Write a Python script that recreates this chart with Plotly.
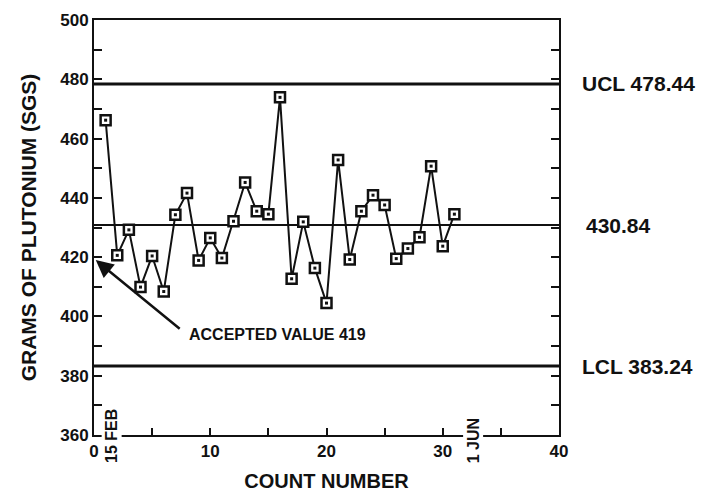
import plotly.graph_objects as go

# ---- data ----
count_number = list(range(1, 32))
grams_pu = [466.2, 420.6, 429.2, 409.9, 420.4, 408.4, 434.3, 441.6, 418.9, 426.5,
            419.7, 432.1, 445.2, 435.5, 434.5, 473.9, 412.7, 431.9, 416.3, 404.5,
            452.8, 419.2, 435.5, 440.9, 437.6, 419.5, 422.9, 426.7, 450.7, 423.7,
            434.5]
ucl = 478.44
center = 430.84
lcl = 383.24
accepted_value = 419
x_range = [0, 40]
y_range = [360, 500]
x_tick_vals = [0, 5, 10, 15, 20, 25, 30, 35, 40]
x_tick_text = ["0", "", "10", "", "20", "", "30", "", "40"]
y_tick_vals = [360, 370, 380, 390, 400, 410, 420, 430, 440, 450, 460, 470, 480, 490, 500]
y_tick_text = ["360", "", "380", "", "400", "", "420", "", "440", "", "460", "", "480", "", "500"]

FONT = "Liberation Sans, Arial, sans-serif"
BLACK = "#111111"

fig = go.Figure()

# control lines
for val, w in [(ucl, 3), (center, 2), (lcl, 3)]:
    fig.add_trace(go.Scatter(x=x_range, y=[val, val], mode="lines",
                             line=dict(color=BLACK, width=w),
                             hoverinfo="skip", showlegend=False))

# data line
fig.add_trace(go.Scatter(x=count_number, y=grams_pu, mode="lines",
                         line=dict(color=BLACK, width=2),
                         showlegend=False, hoverinfo="skip"))
# open square markers
fig.add_trace(go.Scatter(x=count_number, y=grams_pu, mode="markers",
                         marker=dict(symbol="square", size=10, color="white",
                                     line=dict(color=BLACK, width=2.5)),
                         showlegend=False))
# centre dots
fig.add_trace(go.Scatter(x=count_number, y=grams_pu, mode="markers",
                         marker=dict(symbol="square", size=3, color=BLACK,
                                     line=dict(width=0)),
                         showlegend=False, hoverinfo="skip"))

annotations = []
# right-hand labels for control lines
for val, txt, xp in [(ucl, "UCL 478.44", 1.045), (center, "430.84", 1.053), (lcl, "LCL 383.24", 1.045)]:
    annotations.append(dict(x=xp, xref="paper", y=val, yref="y", text=txt,
                            showarrow=False, xanchor="left", yanchor="middle",
                            font=dict(family=FONT, size=21, color=BLACK, weight="bold")))

# accepted value arrow
annotations.append(dict(x=0.15, y=accepted_value, xref="x", yref="y",
                        ax=7.5, ay=395.4, axref="x", ayref="y", text="",
                        showarrow=True, arrowhead=2, arrowsize=1.4, arrowwidth=2.5,
                        arrowcolor=BLACK, standoff=0, startstandoff=0))
annotations.append(dict(x=8.0, y=394.0, xref="x", yref="y",
                        text="ACCEPTED VALUE 419", showarrow=False,
                        xanchor="left", yanchor="middle",
                        font=dict(family=FONT, size=16, color=BLACK, weight="bold")))

# date labels on x axis (placed in paper coords just below the axis)
for xv, txt in [(1.55, "15 FEB"), (32.6, "1 JUN")]:
    annotations.append(dict(x=xv, y=-0.072, xref="x", yref="paper", text=txt,
                            textangle=-90, showarrow=False,
                            xanchor="center", yanchor="bottom",
                            bgcolor="white", borderpad=1,
                            font=dict(family=FONT, size=16, color=BLACK, weight="bold")))

fig.update_layout(
    width=706, height=495,
    margin=dict(l=94, r=147, t=20, b=60, autoexpand=False),
    paper_bgcolor="white", plot_bgcolor="white",
    showlegend=False,
    annotations=annotations,
    font=dict(family=FONT, color=BLACK),
)

fig.update_xaxes(
    range=x_range, tickmode="array", tickvals=x_tick_vals, ticktext=x_tick_text,
    ticks="inside", ticklen=7, tickwidth=2, tickcolor=BLACK,
    showline=True, linecolor=BLACK, linewidth=2, mirror=True,
    showgrid=False, zeroline=False, automargin=False,
    tickfont=dict(family=FONT, size=17, color=BLACK, weight="bold"),
    title=dict(text="COUNT NUMBER", standoff=14,
               font=dict(family=FONT, size=20, color=BLACK, weight="bold")),
)
fig.update_yaxes(
    range=y_range, tickmode="array", tickvals=y_tick_vals, ticktext=y_tick_text,
    ticks="inside", ticklen=8, tickwidth=2, tickcolor=BLACK,
    showline=True, linecolor=BLACK, linewidth=2, mirror="ticks",
    showgrid=False, zeroline=False, automargin=False,
    tickfont=dict(family=FONT, size=17, color=BLACK, weight="bold"),
    title=dict(text="GRAMS OF PLUTONIUM (SGS)", standoff=18,
               font=dict(family=FONT, size=21, color=BLACK, weight="bold")),
)

fig.write_html("out.html")
